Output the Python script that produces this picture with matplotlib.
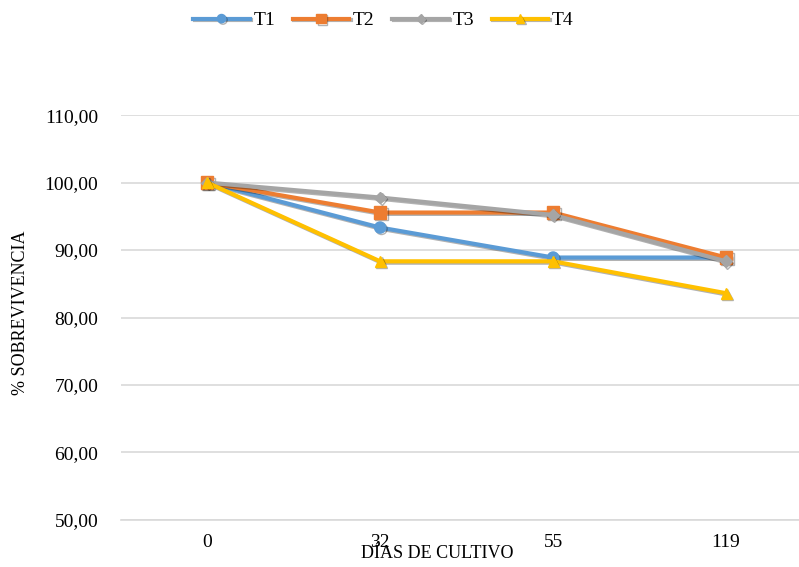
import matplotlib
matplotlib.use("Agg")
import matplotlib.pyplot as plt
import matplotlib.patheffects as pe

# Data
dias = ["0", "32", "55", "119"]
t1 = [100.00, 93.33, 88.89, 88.89]
t2 = [100.00, 95.56, 95.56, 88.89]
t3 = [100.00, 97.78, 95.20, 88.33]
t4 = [100.00, 88.33, 88.33, 83.60]
series_names = ["T1", "T2", "T3", "T4"]
y_ticks = [50, 60, 70, 80, 90, 100, 110]

plt.rcParams['font.family'] = ['Liberation Serif', 'DejaVu Serif']

fig = plt.figure(figsize=(7.99, 5.67), dpi=100)
ax = fig.add_axes([0.151, 0.083, 0.866, 0.714])

colors = ["#5B9BD5", "#ED7D31", "#A5A5A5", "#FFC000"]
markers = ["o", "s", "D", "^"]
sizes = [8, 9, 6, 8]
shadow = [pe.SimpleLineShadow(offset=(1, -1), alpha=0.3, shadow_color="black"), pe.Normal()]

x = range(len(dias))
for vals, name, c, m, ms in zip([t1, t2, t3, t4], series_names, colors, markers, sizes):
    ax.plot(x, vals, color=c, lw=3, marker=m, markersize=ms, label=name,
            markeredgecolor=c, path_effects=shadow, zorder=3)

ax.set_ylim(50, 110)
ax.set_yticks(y_ticks)
ax.set_yticklabels([f"{v:.2f}".replace(".", ",") for v in y_ticks], fontsize=14)
ax.set_xlim(-0.5, len(dias) - 0.5)
ax.set_xticks(list(x))
ax.set_xticklabels(dias, fontsize=14)
ax.tick_params(length=0, pad=10)
ax.tick_params(axis="y", pad=16)
ax.grid(axis="y", color="#D9D9D9", lw=1.2)
ax.set_axisbelow(True)
for s in ["top", "right", "left"]:
    ax.spines[s].set_visible(False)
ax.spines["bottom"].set_color("#D9D9D9")
ax.spines["bottom"].set_linewidth(1.2)

fig.text(0.026, 0.448, "% SOBREVIVENCIA", rotation=90, ha="center", va="center", fontsize=13)
fig.text(0.547, 0.023, "DÍAS DE CULTIVO", ha="center", va="center", fontsize=13)

leg = fig.legend(loc="upper center", bbox_to_anchor=(0.48, 1.01), ncol=4, frameon=False,
                 fontsize=14, handlelength=2.9, columnspacing=0.9, handletextpad=0.2,
                 markerscale=0.75)

fig.savefig("out.png", dpi=100)
